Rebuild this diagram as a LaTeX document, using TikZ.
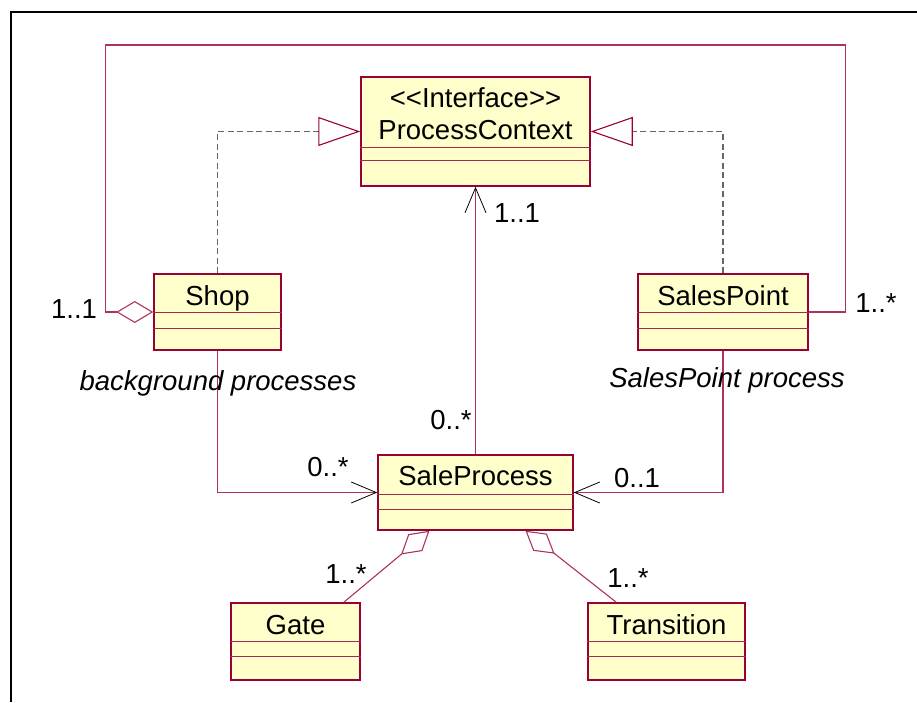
\documentclass[tikz,border=0pt]{standalone}
\usepackage{fontspec}
\setmainfont{Liberation Sans}
\usetikzlibrary{arrows.meta,calc}
\definecolor{umlred}{RGB}{153,0,51}
\definecolor{umlfill}{RGB}{255,255,204}
\tikzset{diam/.tip={Diamond[open,length=37pt,width=22pt]}}
\begin{document}
\begin{tikzpicture}[x=1pt,y=-1pt,
    every node/.style={font=\fontsize{27.5}{32}\selectfont, inner sep=0pt},
    classbox/.style={draw=umlred, fill=umlfill, line width=1.5pt, rectangle, minimum height=76pt},
    sepline/.style={draw=umlred!85, line width=1pt},
    assoc/.style={draw=umlred!80, line width=1.1pt},
    nav/.style={assoc, -{Straight Barb[length=25pt,width=21pt,color=black,line width=0.8pt]}},
    realize/.style={draw=black!60, line width=1.4pt, dash pattern=on 6pt off 3.5pt,
      -{Triangle[open,length=42pt,width=29pt,color=umlred,line width=1.1pt]}},
    note/.style={font=\fontsize{27.5}{32}\selectfont\itshape}]

        \useasboundingbox (0,0) rectangle (917,702);
        \draw[line width=2.2pt] (11,702) |- (917,12);

        \begin{scope}[every node/.append style={classbox}]
          \node[minimum width=229pt, minimum height=109pt] (ctx) at (475.5,131.5) {};
          \node[minimum width=127pt] (shop)  at (217.5,312)   {};
          \node[minimum width=170pt] (sp)    at (723,312)     {};
          \node[minimum width=195pt, minimum height=75pt] (sale) at (475.5,492.5) {};
          \node[minimum width=129pt, minimum height=77pt] (gate)  at (295.5,641.5) {};
          \node[minimum width=157pt, minimum height=77pt] (trans) at (666.5,641.5) {};
        \end{scope}

        \foreach \n/\a/\b in {ctx/71/84, shop/39/55, sp/39/55, sale/40/55, gate/39/54, trans/39/54}
          \draw[sepline] ([yshift=-\a]\n.north west) -- ([yshift=-\a]\n.north east)
                         ([yshift=-\b]\n.north west) -- ([yshift=-\b]\n.north east);

        \begin{scope}[every node/.append style={anchor=base}]
          \node (ctx-stereo) at ([yshift=-31]ctx.north)  {<\kern0pt<Interface>\kern0pt>};
          \node (ctx-name)   at ([yshift=-63]ctx.north)  {ProcessContext};
          \node (shop-name)  at ([yshift=-32]shop.north) {Shop};
          \node (sp-name)    at ([yshift=-32]sp.north)   {SalesPoint};
          \node (sale-name)  at ([yshift=-31]sale.north) {SaleProcess};
          \node (gate-name)  at ([yshift=-32]gate.north) {Gate};
          \node (trans-name) at ([yshift=-32]trans.north) {Transition};
        \end{scope}

        \draw[realize] (shop.north) |- (ctx.west);
        \draw[realize] (sp.north) |- (ctx.east);

        \draw[nav] (sale.north) -- (ctx.south);
        \draw[nav] (shop.south) |- (sale.west);
        \draw[nav] (sp.south) |- (sale.east);

        \draw[assoc, diam-] (shop.west) -- ++(-48,0) |- ($(sp.east)+(37,-267)$) -- ++(0,267) -- (sp.east);
        \draw[assoc, -diam] ([xshift=-17]gate.north east) -- ([xshift=-46]sale.south);
        \draw[assoc, -diam] ([xshift=29]trans.north west) -- ([xshift=50]sale.south);

        \node (m-shop)     at (74,309)  {1..1};
        \node (m-sp)       at (876,303) {1..*};
        \node (m-ctx)      at (517,213) {1..1};
        \node (m-sale-ctx) at (451,420) {0..*};
        \node (m-sale-l)   at (328,467) {0..*};
        \node (m-sale-r)   at (637,478) {0..1};
        \node (m-gate)     at (346,574) {1..*};
        \node (m-trans)    at (628,578) {1..*};

        \node[note] (bg-note) at (218,383) {background processes};
        \node[note] (sp-note) at (727,380) {SalesPoint process};

      \end{tikzpicture}
\end{document}
